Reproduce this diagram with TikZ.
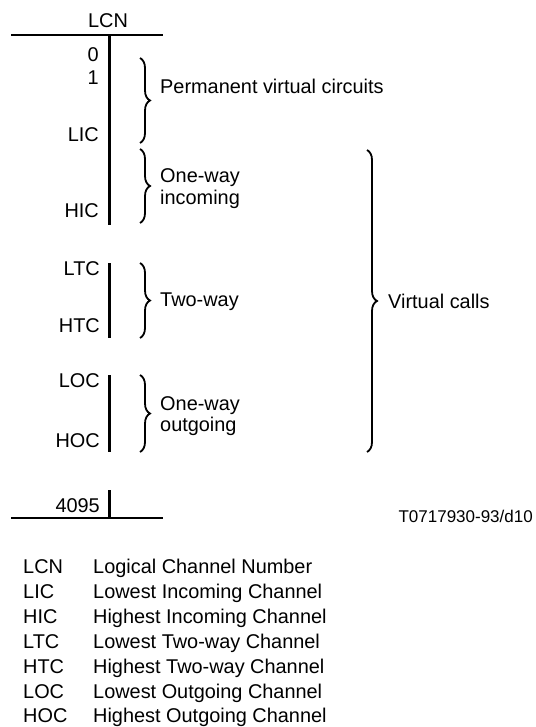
\documentclass[tikz,border=0pt]{standalone}
\usepackage{fontspec}
\setmainfont{Liberation Sans}
\usetikzlibrary{decorations.pathreplacing}
\begin{document}
\begin{tikzpicture}[x=1pt,y=-1pt,
  txt/.style={inner sep=0pt, font=\fontsize{19.9}{22}\selectfont},
  lbl/.style={txt, anchor=base east},
  rtxt/.style={txt, anchor=base west},
  axisline/.style={line width=3pt},
  ruleline/.style={line width=1.9pt},
  brc/.style={decorate, decoration={brace, amplitude=10pt}, line width=1.8pt}]
\useasboundingbox (0,0) rectangle (535,727);
% header
\node[txt, anchor=base] (lcn) at (108,28) {LCN};
\draw[ruleline] (11,35) coordinate (t1) -- (163,35) coordinate (t2);
\draw[ruleline] (11,518) coordinate (b1) -- (163,518) coordinate (b2);
% axis segments
\coordinate (s1a) at (109,35); \coordinate (s1b) at (109,225);
\coordinate (s2a) at (109,263); \coordinate (s2b) at (109,338);
\coordinate (s3a) at (109,375); \coordinate (s3b) at (109,452);
\coordinate (s4a) at (109,490); \coordinate (s4b) at (109,518);
\draw[axisline] (s1a) -- (s1b);
\draw[axisline] (s2a) -- (s2b);
\draw[axisline] (s3a) -- (s3b);
\draw[axisline] (s4a) -- (s4b);
% labels
\node[lbl] (n0) at (99,62) {0};
\node[lbl] (n1) at (99,85) {1};
\node[lbl] (lic) at (99,142) {LIC};
\node[lbl] (hic) at (99,218) {HIC};
\node[lbl] (ltc) at (100,275) {LTC};
\node[lbl] (htc) at (100,332) {HTC};
\node[lbl] (loc) at (100,387) {LOC};
\node[lbl] (hoc) at (100,447) {HOC};
\node[lbl] (n4095) at (100,512) {4095};
% braces
\draw[brc] (140,58) -- (140,143);
\node[rtxt] (pvc) at (160,94) {Permanent virtual circuits};
\draw[brc] (140,149) -- (140,223);
\node[rtxt] (inc1) at (160,183) {One-way};
\node[rtxt] (inc2) at (160,205) {incoming};
\draw[brc] (140,263) -- (140,338);
\node[rtxt] (two) at (160,306) {Two-way};
\draw[brc] (140,375) -- (140,452);
\node[rtxt] (out1) at (160,410) {One-way};
\node[rtxt] (out2) at (160,431) {outgoing};
\draw[brc] (367,150) -- (367,452);
\node[rtxt] (vc) at (388,308) {Virtual calls};
% figure id
\node[inner sep=0pt, anchor=base east, font=\fontsize{17}{20}\selectfont] (fid) at (533,522) {T0717930-93/d10};
% legend
\node[rtxt] (a1) at (23,573) {LCN};
\node[rtxt] (d1) at (93,573) {Logical Channel Number};
\node[rtxt] (a2) at (23,598) {LIC};
\node[rtxt] (d2) at (93,598) {Lowest Incoming Channel};
\node[rtxt] (a3) at (23,623) {HIC};
\node[rtxt] (d3) at (93,623) {Highest Incoming Channel};
\node[rtxt] (a4) at (23,648) {LTC};
\node[rtxt] (d4) at (93,648) {Lowest Two-way Channel};
\node[rtxt] (a5) at (23,673) {HTC};
\node[rtxt] (d5) at (93,673) {Highest Two-way Channel};
\node[rtxt] (a6) at (23,698) {LOC};
\node[rtxt] (d6) at (93,698) {Lowest Outgoing Channel};
\node[rtxt] (a7) at (23,722) {HOC};
\node[rtxt] (d7) at (93,722) {Highest Outgoing Channel};
\end{tikzpicture}
\end{document}
